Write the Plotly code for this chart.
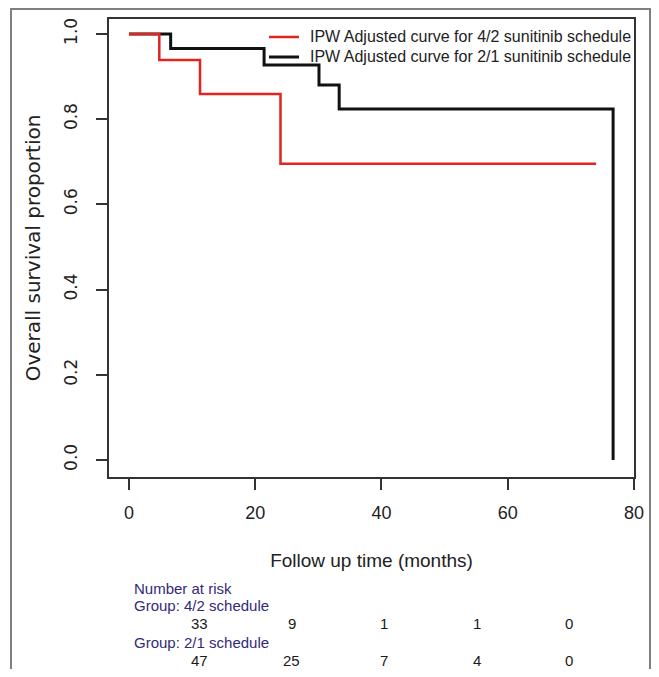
import plotly.graph_objects as go

# ---- data ----
red_time = [0, 4.8, 11.25, 24.0, 74.0]
red_surv = [1.0, 0.939, 0.859, 0.695, 0.695]
black_time = [0, 6.6, 21.4, 30.1, 33.3, 76.7]
black_surv = [1.0, 0.966, 0.927, 0.880, 0.824, 0.0]
legend_labels = ["IPW Adjusted curve for 4/2 sunitinib schedule",
                 "IPW Adjusted curve for 2/1 sunitinib schedule"]
x_ticks = [0, 20, 40, 60, 80]
y_ticks = [0.0, 0.2, 0.4, 0.6, 0.8, 1.0]
y_tick_labels = ["0.0", "0.2", "0.4", "0.6", "0.8", "1.0"]
risk_title = "Number at risk"
risk_groups = ["Group: 4/2 schedule", "Group: 2/1 schedule"]
risk_42 = [33, 9, 1, 1, 0]
risk_21 = [47, 25, 7, 4, 0]

# page offset of the figure (default body margin of the html page)
OFF = 8
W, H = 659 - 2 * OFF, 677 - 2 * OFF
# target plot box in page pixels: x 109..634, y 19..477
ML, MT = 109 - OFF, 19 - OFF
MR, MB = W - (634 - OFF), H - (477 - OFF)
PW, PH = W - ML - MR, H - MT - MB

def px(x):
    return (x - OFF - ML) / PW

def py(y):
    return (H - MB - (y - OFF)) / PH

SANS = "Liberation Sans, Arial, sans-serif"
WIDE = "DejaVu Sans, Verdana, sans-serif"
RED = "#e3231e"
BLACK = "#111111"
NAVY = "#322a78"
TXT = "#222222"

fig = go.Figure()
fig.add_trace(go.Scatter(x=black_time, y=black_surv, mode="lines", line_shape="hv",
                         line=dict(color=BLACK, width=3), name=legend_labels[1]))
fig.add_trace(go.Scatter(x=red_time, y=red_surv, mode="lines", line_shape="hv",
                         line=dict(color=RED, width=2.5), name=legend_labels[0]))

axis_common = dict(showgrid=False, zeroline=False, showline=True, mirror=True,
                   linecolor="#333333", linewidth=1.5, ticks="outside", ticklen=11,
                   tickwidth=1.5, tickcolor="#333333", automargin=False)

fig.update_xaxes(range=[-3.17, 80.01], tickvals=x_ticks,
                 tickfont=dict(family=SANS, size=18, color=TXT),
                 ticklabelstandoff=8,
                 title=dict(text="Follow up time (months)", standoff=31,
                            font=dict(family=SANS, size=19, color=TXT)),
                 **axis_common)
fig.update_yaxes(range=[-0.040, 1.035], tickvals=y_ticks, ticktext=y_tick_labels,
                 tickangle=-90,
                 tickfont=dict(family=WIDE, size=17, color=TXT),
                 ticklabelstandoff=12,
                 title=dict(text="Overall survival proportion", standoff=15,
                            font=dict(family=WIDE, size=20, color=TXT)),
                 **axis_common)

fig.update_layout(
    width=W, height=H,
    margin=dict(l=ML, r=MR, t=MT, b=MB, autoexpand=False),
    paper_bgcolor="white", plot_bgcolor="white",
    showlegend=False,
)

# outer frame of the figure
fig.add_shape(type="rect", xref="paper", yref="paper",
              x0=px(11), x1=px(650), y0=py(700), y1=py(9),
              line=dict(color="#808080", width=2), fillcolor="rgba(0,0,0,0)")

ann = []
def add_text(text, x, y, anchor, color, size=15):
    ann.append(dict(text=text, x=px(x), y=py(y), xref="paper", yref="paper",
                    xanchor=anchor, yanchor="middle", showarrow=False,
                    font=dict(family=SANS, size=size, color=color)))

# legend (drawn manually so that it sits inside the plot box)
for label, color, yy, lw in [(legend_labels[0], RED, 37, 2.5), (legend_labels[1], BLACK, 57, 3)]:
    fig.add_shape(type="line", xref="paper", yref="paper",
                  x0=px(269), x1=px(299), y0=py(yy), y1=py(yy),
                  line=dict(color=color, width=lw))
    add_text(label, 308, yy, "left", TXT, size=16)

# number-at-risk table
add_text(risk_title, 132, 588, "left", NAVY)
add_text(risk_groups[0], 132, 605, "left", NAVY)
add_text(risk_groups[1], 132, 642, "left", NAVY)
col0, colstep = 199, 92.5
for i, v in enumerate(risk_42):
    add_text(str(v), col0 + i * colstep, 623, "center", "#1a1a1a")
for i, v in enumerate(risk_21):
    add_text(str(v), col0 + i * colstep, 660, "center", "#1a1a1a")
fig.update_layout(annotations=ann)

fig.write_html("out.html")
